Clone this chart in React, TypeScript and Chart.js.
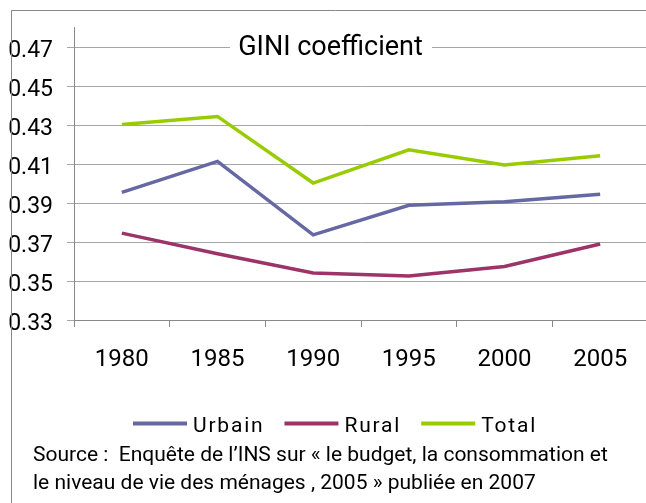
import React, { useEffect, useRef } from "react";
import { Chart, registerables } from "chart.js";

Chart.register(...registerables);

const YEARS = ["1980", "1985", "1990", "1995", "2000", "2005"];
const URBAIN = [0.3955, 0.4114, 0.3737, 0.3889, 0.3907, 0.3946];
const RURAL = [0.3746, 0.364, 0.3541, 0.3526, 0.3575, 0.369];
const TOTAL = [0.4303, 0.4345, 0.4003, 0.4174, 0.4096, 0.4143];
const Y_TICKS = [0.33, 0.35, 0.37, 0.39, 0.41, 0.43, 0.45, 0.47];
const SERIES_NAMES = ["Urbain", "Rural", "Total"];
const SERIES_COLORS = ["#6668A4", "#9C3468", "#99CC00"];
const TITLE = "GINI coefficient";
const SOURCE_LINES = [
  "Source :  Enquête de l’INS sur « le budget, la consommation et",
  "le niveau de vie des ménages , 2005 » publiée en 2007",
];

const FONT = "Roboto, 'Open Sans', Arial, sans-serif";

const decorPlugin = {
  id: "decor",
  afterDraw(chart: any) {
    const ctx = chart.ctx as CanvasRenderingContext2D;
    ctx.save();
    // Title box over the top gridline
    ctx.fillStyle = "#ffffff";
    ctx.fillRect(230, 30, 202, 30);
    ctx.fillStyle = "#000000";
    ctx.font = `27px ${FONT}`;
    ctx.textAlign = "center";
    ctx.textBaseline = "alphabetic";
    ctx.fillText(TITLE, 330.5, 55);

    // Legend
    let x = 133;
    const ly = 423.5;
    ctx.font = `21px ${FONT}`;
    (ctx as any).letterSpacing = "1.8px";
    ctx.textAlign = "left";
    chart.data.datasets.forEach((ds: any) => {
      ctx.strokeStyle = ds.borderColor;
      ctx.lineWidth = 4;
      ctx.lineCap = "butt";
      ctx.beginPath();
      ctx.moveTo(x, ly);
      ctx.lineTo(x + 54, ly);
      ctx.stroke();
      x += 60;
      ctx.fillStyle = "#000000";
      ctx.fillText(ds.label, x, 431.5);
      x += ctx.measureText(ds.label).width + 20;
    });

    // Source text
    (ctx as any).letterSpacing = "0px";
    ctx.font = `21px ${FONT}`;
    ctx.fillStyle = "#000000";
    ctx.fillText(SOURCE_LINES[0], 33, 460.5);
    ctx.fillText(SOURCE_LINES[1], 33, 489);

    // Outer frame
    ctx.strokeStyle = "#888888";
    ctx.lineWidth = 1;
    ctx.beginPath();
    ctx.moveTo(11.5, 503);
    ctx.lineTo(11.5, 10.5);
    ctx.lineTo(660, 10.5);
    ctx.stroke();
    ctx.restore();
  },
};

export default function App() {
  const ref = useRef<HTMLCanvasElement | null>(null);
  useEffect(() => {
    if (!ref.current) return;
    const seriesData = [URBAIN, RURAL, TOTAL];
    const chart = new Chart(ref.current, {
      type: "line",
      data: {
        labels: YEARS,
        datasets: SERIES_NAMES.map((name, i) => ({
          label: name,
          data: seriesData[i],
          borderColor: SERIES_COLORS[i],
          backgroundColor: SERIES_COLORS[i],
          borderWidth: 3.5,
          pointRadius: 0,
          pointHoverRadius: 0,
          tension: 0,
          fill: false,
        })),
      },
      options: {
        animation: false,
        responsive: false,
        devicePixelRatio: 1,
        events: [],
        layout: { padding: { left: 0, right: 12, top: 25, bottom: 123 } },
        plugins: {
          legend: { display: false },
          title: { display: false },
          tooltip: { enabled: false },
        },
        scales: {
          x: {
            type: "category",
            offset: true,
            grid: {
              display: true,
              drawOnChartArea: false,
              drawTicks: true,
              tickLength: 7,
              offset: true,
              color: "#888888",
            },
            border: { display: true, color: "#888888" },
            ticks: {
              color: "#000000",
              font: { family: FONT, size: 24 },
              padding: 19,
              maxRotation: 0,
              autoSkip: false,
            },
            afterFit(scale: any) {
              scale.height = 60;
            },
          },
          y: {
            min: 0.33,
            max: 0.48,
            grid: {
              color: "#a6a6a6",
              tickLength: 7,
              drawTicks: true,
            },
            border: { display: true, color: "#888888" },
            ticks: {
              color: "#000000",
              font: { family: FONT, size: 23 },
              padding: 14,
              labelOffset: 4,
              callback: (v: any) => Number(v).toFixed(2),
            },
            afterBuildTicks(scale: any) {
              scale.ticks = Y_TICKS.map((v) => ({ value: v }));
            },
            afterFit(scale: any) {
              scale.width = 74;
            },
          },
        },
      },
      plugins: [decorPlugin],
    });
    return () => chart.destroy();
  }, []);

  return (
    <div
      style={{
        position: "fixed",
        left: 0,
        top: 0,
        width: 646,
        height: 503,
        overflow: "hidden",
        background: "#ffffff",
      }}
    >
      <canvas ref={ref} width={660} height={503} style={{ display: "block", width: 660, height: 503 }} />
    </div>
  );
}
